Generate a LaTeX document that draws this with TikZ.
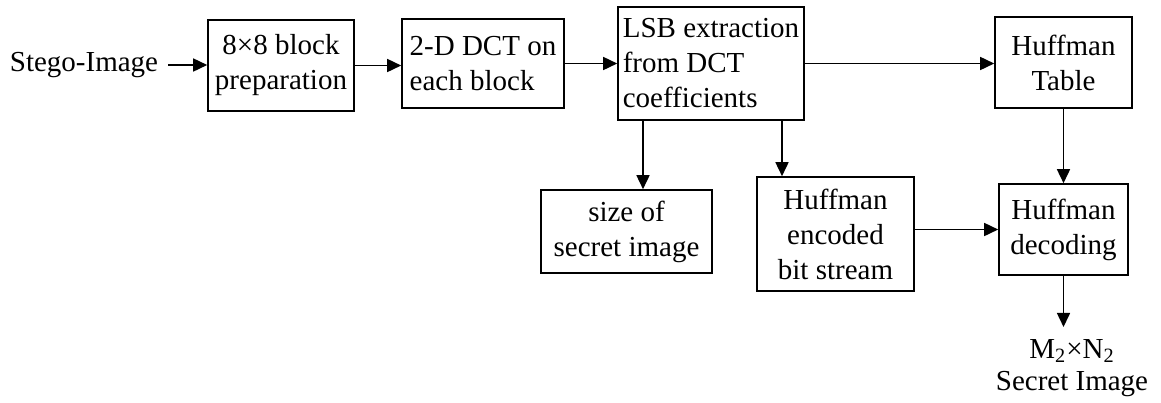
\documentclass[tikz,border=0pt]{standalone}
\usepackage{fontspec}
\setmainfont{Liberation Serif}
\usetikzlibrary{arrows.meta}

\begin{document}
\begin{tikzpicture}[x=0.5pt,y=-0.5pt,
blk/.style={draw,line width=0.8pt,inner sep=2pt,align=center,font=\fontsize{14.5}{17.5}\selectfont},
lbl/.style={inner sep=5pt,align=center,font=\fontsize{14.5}{16}\selectfont},
myarrow/.style={-{Triangle[length=7pt,width=6.5pt]},line width=0.8pt}]
\useasboundingbox (0,0) rectangle (1161,402);
\node[lbl] (stego) at (84,65) {Stego-Image};
\node[blk,minimum width=73pt,minimum height=45.5pt] (prep) at (281,65.5) {8×8 block\\preparation};
\node[blk,align=left,minimum width=81pt,minimum height=44.5pt] (dct) at (483,63.5) {2-D DCT on\\each block};
\node[blk,align=left,minimum width=93pt,minimum height=56.5pt] (lsb) at (711,63.5) {LSB extraction\\from DCT\\coefficients};
\node[blk,minimum width=68.5pt,minimum height=45.5pt] (table) at (1063.5,62.5) {Huffman\\Table};
\node[blk,minimum width=85.5pt,minimum height=41.5pt] (size) at (626.5,231.5) {size of\\secret image};
\node[blk,minimum width=78.5pt,minimum height=57pt] (enc) at (835.5,234) {Huffman\\encoded\\bit stream};
\node[blk,minimum width=64.5pt,minimum height=45.5pt] (dec) at (1063.5,229.5) {Huffman\\decoding};
\node[lbl,inner ysep=6pt] (out) at (1072,368) {M\textsubscript{2}×N\textsubscript{2}\\Secret Image};
\draw[myarrow] (stego.east) -- (stego.east -| prep.west);
\draw[myarrow] (prep.east) -- (prep.east -| dct.west);
\draw[myarrow] (dct.east) -- (dct.east -| lsb.west);
\draw[myarrow] (lsb.east) -- (lsb.east -| table.west);
\draw[myarrow] ([xshift=-34pt]lsb.south) -- ([xshift=-34pt]lsb.south |- size.north);
\draw[myarrow] ([xshift=35.5pt]lsb.south) -- ([xshift=35.5pt]lsb.south |- enc.north);
\draw[myarrow] (table.south) -- (table.south |- dec.north);
\draw[myarrow] (dec.west -| enc.east) -- (dec.west);
\draw[myarrow] (dec.south) -- (dec.south |- out.north);
\end{tikzpicture}
\end{document}
